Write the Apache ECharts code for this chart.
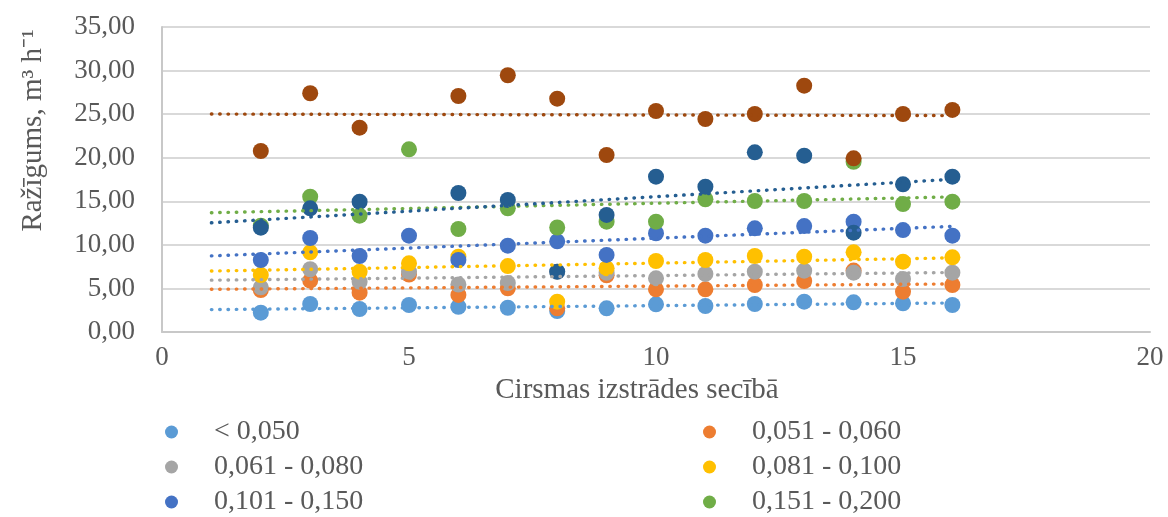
<!DOCTYPE html>
<html><head><meta charset="utf-8">
<script src="https://cdn.jsdelivr.net/npm/echarts@6/dist/echarts.min.js"></script>
<style>html,body{margin:0;padding:0;background:#fff}#c{width:1168px;height:517px}</style>
</head><body><div id="c"></div>
<script>
// ---- data ----
const xValues = [2, 3, 4, 5, 6, 7, 8, 9, 10, 11, 12, 13, 14, 15, 16];
const seriesNames = ['< 0,050', '0,051 - 0,060', '0,061 - 0,080', '0,081 - 0,100', '0,101 - 0,150', '0,151 - 0,200', '0,201 - 0,300', '> 0,300'];
const sLt050   = [2.22, 3.21, 2.64, 3.10, 2.90, 2.78, 2.40, 2.72, 3.18, 2.98, 3.21, 3.48, 3.41, 3.29, 3.10];
const s051_060 = [4.82, 5.90, 4.51, 6.60, 4.25, 5.01, 2.72, 6.50, 4.90, 4.90, 5.39, 5.85, 7.05, 4.63, 5.39];
const s061_080 = [5.13, 7.20, 5.77, 6.92, 5.45, 5.62, 6.90, 6.80, 6.16, 6.66, 6.92, 7.04, 6.81, 6.08, 6.81];
const s081_100 = [6.54, 9.14, 6.92, 7.88, 8.64, 7.57, 3.48, 7.31, 8.15, 8.26, 8.72, 8.64, 9.14, 8.07, 8.57];
const s101_150 = [8.26, 10.79, 8.72, 11.05, 8.26, 9.91, 10.40, 8.84, 11.33, 11.05, 11.90, 12.16, 12.66, 11.70, 11.05];
const s151_200 = [12.20, 15.53, 13.35, 20.96, 11.82, 14.19, 11.99, 12.66, 12.66, 15.23, 15.03, 15.03, 19.54, 14.69, 14.96];
const s201_300 = [11.97, 14.19, 14.95, null, 15.95, 15.15, 6.92, 13.43, 17.82, 16.68, 20.62, 20.23, 11.40, 16.95, 17.82];
const sGt300   = [20.77, 27.40, 23.45, null, 27.08, 29.46, 26.78, 20.31, 25.36, 24.44, 25.02, 28.27, 19.93, 25.02, 25.48];
const trendFrom = 1, trendTo = 16;
const yTickMin = 0, yTickMax = 35, yTickStep = 5;
const xTickMin = 0, xTickMax = 20, xTickStep = 5;

const allSeries = [sLt050, s051_060, s061_080, s081_100, s101_150, s151_200, s201_300, sGt300];
const colors = ['#5B9BD5', '#ED7D31', '#A5A5A5', '#FFC000', '#4472C4', '#70AD47', '#255E91', '#9E480E'];
const FONT = '"Liberation Serif", "Times New Roman", serif';
const TXT = '#595959';

function linReg(xs, ys) {
  const pts = [];
  xs.forEach((x, i) => { if (ys[i] != null) pts.push([x, ys[i]]); });
  const n = pts.length;
  const mx = pts.reduce((a, p) => a + p[0], 0) / n;
  const my = pts.reduce((a, p) => a + p[1], 0) / n;
  let sxy = 0, sxx = 0;
  pts.forEach(p => { sxy += (p[0] - mx) * (p[1] - my); sxx += (p[0] - mx) * (p[0] - mx); });
  const b = sxy / sxx, a = my - b * mx;
  return [[trendFrom, a + b * trendFrom], [trendTo, a + b * trendTo]];
}

const series = [];
allSeries.forEach((ys, i) => {
  series.push({
    name: seriesNames[i], type: 'scatter', symbol: 'circle', symbolSize: 16,
    itemStyle: { color: colors[i], opacity: 1 },
    data: xValues.map((x, k) => ys[k] == null ? null : [x, ys[k]]).filter(d => d),
    z: 2
  });
});
allSeries.forEach((ys, i) => {
  series.push({
    name: 'trend ' + seriesNames[i], type: 'line', showSymbol: false, silent: true,
    lineStyle: { color: colors[i], width: 3.4, type: [0.5, 7.8], cap: 'round' },
    data: linReg(xValues, ys), z: 3
  });
});

const legendCommon = {
  orient: 'vertical', top: 418, height: 99, padding: 0, itemWidth: 13, itemHeight: 13, itemGap: 7, icon: 'circle',
  textStyle: { fontFamily: FONT, fontSize: 28, color: TXT, padding: [0, 0, 0, 31], lineHeight: 28 }
};

const chart = echarts.init(document.getElementById('c'), null, { renderer: 'canvas' });
chart.setOption({
  animation: false,
  backgroundColor: '#fff',
  grid: { left: 162, right: 18, top: 27, bottom: 185, containLabel: false, outerBoundsMode: 'none' },
  xAxis: {
    type: 'value', min: xTickMin, max: xTickMax, interval: xTickStep,
    name: 'Cirsmas izstrādes secībā', nameLocation: 'middle', nameGap: 32,
    nameTextStyle: { fontFamily: FONT, fontSize: 29, color: TXT, padding: [0, 38, 0, 0] },
    axisLine: { show: true, lineStyle: { color: '#C8C8C8', width: 2 } },
    axisTick: { show: false },
    splitLine: { show: false },
    axisLabel: { fontFamily: FONT, fontSize: 27, color: TXT, margin: 12 }
  },
  yAxis: {
    type: 'value', min: yTickMin, max: yTickMax, interval: yTickStep,
    name: 'Ražīgums, m³ h⁻¹', nameLocation: 'middle', nameGap: 114, nameRotate: 90,
    nameTextStyle: { fontFamily: FONT, fontSize: 29, color: TXT, padding: [0, 0, 0, 98] },
    axisLine: { show: true, lineStyle: { color: '#C8C8C8', width: 2 } },
    axisTick: { show: false },
    splitLine: { show: true, lineStyle: { color: '#D9D9D9', width: 2 } },
    axisLabel: { fontFamily: FONT, fontSize: 27, color: TXT, margin: 27,
      formatter: v => v.toFixed(2).replace('.', ',') }
  },
  legend: [
    Object.assign({}, legendCommon, { left: 165, data: [seriesNames[0], seriesNames[2], seriesNames[4]] }),
    Object.assign({}, legendCommon, { left: 703, data: [seriesNames[1], seriesNames[3], seriesNames[5]] })
  ],
  series: series
});
</script></body></html>
